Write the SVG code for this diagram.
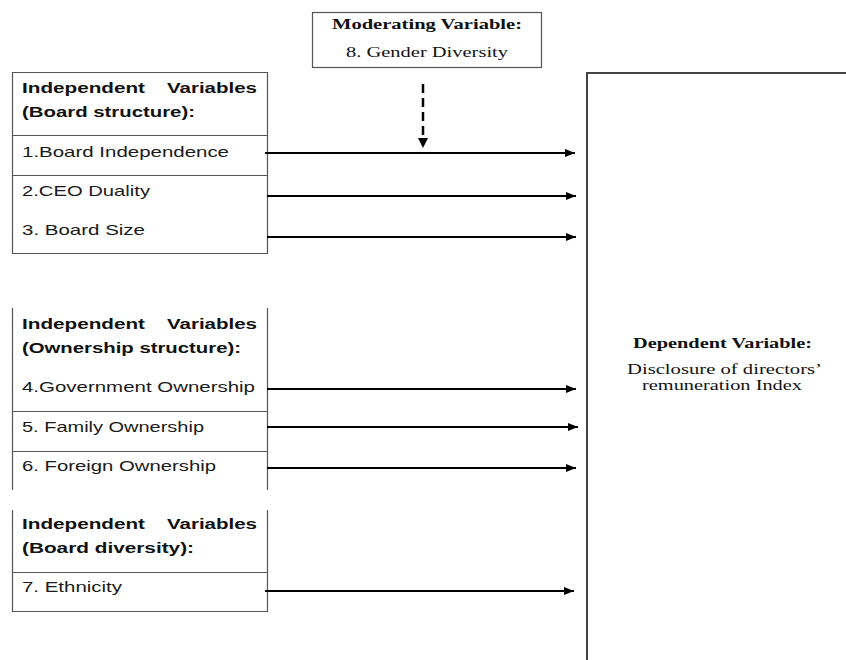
<svg xmlns="http://www.w3.org/2000/svg" width="846" height="660" viewBox="0 0 846 660">
  <style>
    .box { fill: none; stroke: #555; stroke-width: 1.2; }
    .dep { fill: none; stroke: #444; stroke-width: 2; }
    .lbl { font-family: "Liberation Sans", Arial, sans-serif; font-size: 14.5px; fill: #1a1a1a; }
    .hd { font-family: "Liberation Sans", Arial, sans-serif; font-size: 14.5px; font-weight: bold; fill: #111; }
    .sf { font-family: "Liberation Serif", "Times New Roman", serif; font-size: 14.5px; fill: #111; }
    .sfb { font-family: "Liberation Serif", "Times New Roman", serif; font-size: 14.5px; font-weight: bold; fill: #111; }
    .arr { stroke: #000; stroke-width: 2; fill: none; marker-end: url(#ah); }
    .dash { stroke: #000; stroke-width: 2.5; fill: none; stroke-dasharray: 9 5; }
  </style>
  <defs>
    <marker id="ah" viewBox="0 0 10 8" refX="10" refY="4" markerWidth="10" markerHeight="8" markerUnits="userSpaceOnUse" orient="auto">
      <path d="M0,0 L10,4 L0,8 Z" fill="#000"/>
    </marker>
  </defs>

  <rect width="846" height="660" fill="#fff"/>

  <!-- Moderating variable -->
  <g id="moderator">
    <rect class="box" x="312.5" y="12.5" width="229" height="55"/>
    <text class="sfb" x="427" y="29" text-anchor="middle" textLength="190" lengthAdjust="spacingAndGlyphs">Moderating Variable:</text>
    <text class="sf" x="427" y="57" text-anchor="middle" textLength="162" lengthAdjust="spacingAndGlyphs">8. Gender Diversity</text>
  </g>

  <!-- Board structure -->
  <g id="board-structure">
    <path class="box" d="M12.5,72.5 H267.5 V253.5 H12.5 Z M12.5,135.5 H267.5 M12.5,175.5 H267.5"/>
    <text class="hd" y="93"><tspan x="22" textLength="123" lengthAdjust="spacingAndGlyphs">Independent</tspan><tspan x="167" textLength="90" lengthAdjust="spacingAndGlyphs">Variables</tspan></text>
    <text class="hd" x="22" y="117" textLength="173" lengthAdjust="spacingAndGlyphs">(Board structure):</text>
    <text class="lbl" x="22" y="157" textLength="207" lengthAdjust="spacingAndGlyphs">1.Board Independence</text>
    <text class="lbl" x="22" y="196" textLength="128" lengthAdjust="spacingAndGlyphs">2.CEO Duality</text>
    <text class="lbl" x="22" y="235" textLength="123" lengthAdjust="spacingAndGlyphs">3. Board Size</text>
  </g>

  <!-- Ownership structure -->
  <g id="ownership-structure">
    <path class="box" d="M12.5,308 V490 M267.5,308 V490 M12.5,411.5 H267.5 M12.5,451.5 H267.5"/>
    <text class="hd" y="329"><tspan x="22" textLength="123" lengthAdjust="spacingAndGlyphs">Independent</tspan><tspan x="167" textLength="90" lengthAdjust="spacingAndGlyphs">Variables</tspan></text>
    <text class="hd" x="22" y="353" textLength="219" lengthAdjust="spacingAndGlyphs">(Ownership structure):</text>
    <text class="lbl" x="22" y="392" textLength="233" lengthAdjust="spacingAndGlyphs">4.Government Ownership</text>
    <text class="lbl" x="22" y="432" textLength="182" lengthAdjust="spacingAndGlyphs">5. Family Ownership</text>
    <text class="lbl" x="22" y="471" textLength="194" lengthAdjust="spacingAndGlyphs">6. Foreign Ownership</text>
  </g>

  <!-- Board diversity -->
  <g id="board-diversity">
    <path class="box" d="M12.5,510 V611.5 H267.5 V510 M12.5,572.5 H267.5"/>
    <text class="hd" y="529"><tspan x="22" textLength="123" lengthAdjust="spacingAndGlyphs">Independent</tspan><tspan x="167" textLength="90" lengthAdjust="spacingAndGlyphs">Variables</tspan></text>
    <text class="hd" x="22" y="553" textLength="172" lengthAdjust="spacingAndGlyphs">(Board diversity):</text>
    <text class="lbl" x="22" y="592" textLength="100" lengthAdjust="spacingAndGlyphs">7. Ethnicity</text>
  </g>

  <!-- Dependent variable -->
  <g id="dependent">
    <path class="dep" d="M587,660 V73 H846"/>
    <text class="sfb" x="722.5" y="348" text-anchor="middle" textLength="179" lengthAdjust="spacingAndGlyphs">Dependent Variable:</text>
    <text class="sf" x="724.5" y="374" text-anchor="middle" textLength="195" lengthAdjust="spacingAndGlyphs">Disclosure of directors’</text>
    <text class="sf" x="722" y="390" text-anchor="middle" textLength="160" lengthAdjust="spacingAndGlyphs">remuneration Index</text>
  </g>

  <!-- Connectors -->
  <g id="connectors">
    <line class="arr" x1="265" y1="153" x2="575" y2="153"/>
    <line class="arr" x1="267" y1="196" x2="576" y2="196"/>
    <line class="arr" x1="267" y1="237" x2="576" y2="237"/>
    <line class="arr" x1="267" y1="389" x2="576" y2="389"/>
    <line class="arr" x1="267" y1="427" x2="578" y2="427"/>
    <line class="arr" x1="267" y1="468" x2="576" y2="468"/>
    <line class="arr" x1="265" y1="591" x2="574" y2="591"/>
    <path class="dash" d="M423,84 V136"/>
    <path d="M418,138 L428,138 L423,148 Z" fill="#000"/>
  </g>
</svg>
